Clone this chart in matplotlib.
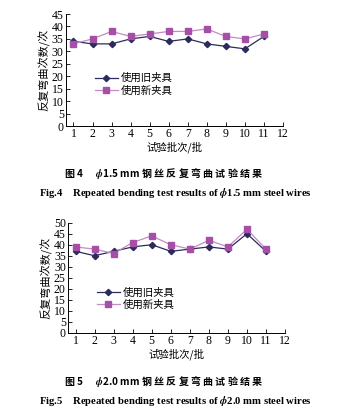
import matplotlib
matplotlib.use("Agg")
import matplotlib.pyplot as plt

plt.rcParams['font.family'] = ['Liberation Serif', 'Noto Sans CJK SC']
plt.rcParams['mathtext.fontset'] = 'stix'

batches = list(range(1, 12))
x_ticks = list(range(1, 13))

# phi 1.5 mm wires
old_15 = [34, 33, 33, 35, 36, 34, 35, 33, 32, 31, 36]
new_15 = [33, 35, 38, 36, 37, 38, 38, 39, 36, 35, 37]

# phi 2.0 mm wires
old_20 = [37, 35, 37, 39, 40, 37, 38, 39, 38, 45, 37]
new_20 = [39, 38, 36, 41, 44, 40, 38, 42, 39, 47, 38]

OLD_C = '#2b2b5c'
NEW_C = '#a64fa6'
NEW_LINE = '#c58ac5'
CJK = ['Noto Sans CJK SC', 'DejaVu Sans']

fig = plt.figure(figsize=(3.43, 4.11), dpi=100)


def panel(rect, old, new, ymax, leg_y):
    ax = fig.add_axes(rect)
    ax.plot(batches, old, color=OLD_C, lw=0.9, marker='D', ms=3.2,
            mfc=OLD_C, mec=OLD_C, label='使用旧夹具')
    ax.plot(batches, new, color=NEW_LINE, lw=0.9, marker='s', ms=4,
            mfc=NEW_C, mec=NEW_C, label='使用新夹具')
    ax.set_xlim(0.6, 12)
    ax.set_ylim(0, ymax)
    ax.set_xticks(x_ticks)
    ax.set_yticks(range(0, ymax + 1, 5))
    ax.tick_params(direction='in', length=3, width=0.6, labelsize=8.5, pad=1.5)
    for s in ('top', 'right'):
        ax.spines[s].set_visible(False)
    for s in ('left', 'bottom'):
        ax.spines[s].set_linewidth(0.7)
    ax.set_ylabel('反复弯曲次数/次', family=CJK, fontsize=8, labelpad=1)
    ax.set_xlabel('试验批次/批', family=CJK, fontsize=7.5, labelpad=1)
    ax.legend(loc='upper left', bbox_to_anchor=(0.11, leg_y), frameon=False,
              prop={'family': CJK, 'size': 7.5}, handlelength=2.2,
              handletextpad=0.3, labelspacing=0.2, borderpad=0)
    return ax


panel([0.192, 0.6934, 0.633, 0.2725], old_15, new_15, 45, 0.52)
panel([0.198, 0.1905, 0.633, 0.2676], old_20, new_20, 50, 0.46)

fig.text(0.478, 0.579, r'图 4      $\boldsymbol{\phi}$1.5 mm 钢 丝 反 复 弯 曲 试 验 结 果',
         ha='center', va='center', fontsize=7.2, fontweight='bold', family=CJK)
fig.text(0.51, 0.530,
         r'Fig.4    Repeated bending test results of $\boldsymbol{\phi}$1.5 mm steel wires',
         ha='center', va='center', fontsize=7.7, fontweight='bold',
         family='Liberation Serif')
fig.text(0.478, 0.071, r'图 5      $\boldsymbol{\phi}$2.0 mm 钢 丝 反 复 弯 曲 试 验 结 果',
         ha='center', va='center', fontsize=7.2, fontweight='bold', family=CJK)
fig.text(0.51, 0.024,
         r'Fig.5    Repeated bending test results of $\boldsymbol{\phi}$2.0 mm steel wires',
         ha='center', va='center', fontsize=7.7, fontweight='bold',
         family='Liberation Serif')

fig.savefig('out.png', dpi=100)
